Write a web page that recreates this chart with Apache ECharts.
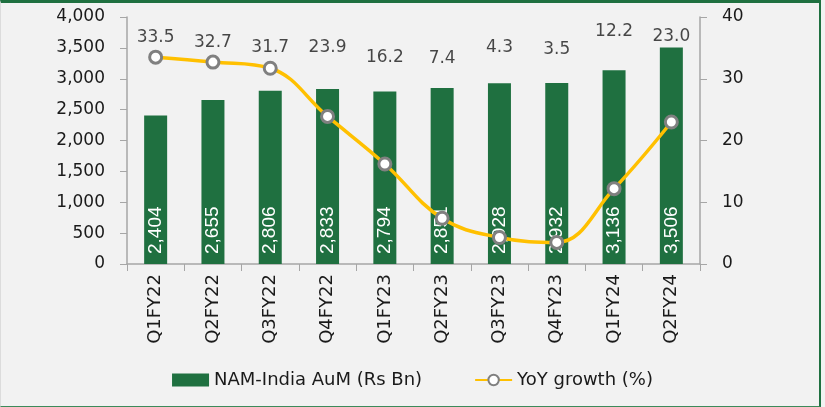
<!DOCTYPE html>
<html><head><meta charset="utf-8">
<script src="https://cdn.jsdelivr.net/npm/echarts@6/dist/echarts.min.js"></script>
<style>
html,body{margin:0;padding:0;background:#ffffff;}
#wrap{position:absolute;left:0;top:0;width:825px;height:407px;}
#chart{position:absolute;left:0;top:0;width:825px;height:407px;}
#frame{position:absolute;left:0;top:0;width:818px;height:403px;border-top:3px solid #1f7040;border-right:2px solid #1f7040;border-bottom:1px solid #3c8a5a;border-left:1px solid #dcdcdc;pointer-events:none;}
</style></head>
<body>
<div id="wrap"><div id="chart"></div><div id="frame"></div></div>
<script>
const categories = ['Q1FY22','Q2FY22','Q3FY22','Q4FY22','Q1FY23','Q2FY23','Q3FY23','Q4FY23','Q1FY24','Q2FY24'];
const aum = [2404,2655,2806,2833,2794,2851,2928,2932,3136,3506];
const yoy = [33.5,32.7,31.7,23.9,16.2,7.4,4.3,3.5,12.2,23.0];
const leftTicks = {min:0,max:4000,interval:500};
const rightTicks = {min:0,max:40,interval:10};

// label anchor heights (right-axis units) for the YoY data labels, placed manually as in the original
const yoyLabelAnchor = [36.6,35.8,35.0,35.1,33.5,33.3,35.0,34.7,37.7,36.9];

const font = '"DejaVu Sans", Inter, sans-serif';
const chart = echarts.init(document.getElementById('chart'));
chart.setOption({
  backgroundColor:'#f2f2f2',
  animation:false,
  grid:{left:127,right:125,top:17,bottom:143},
  legend:{
    top:366,left:'center',itemGap:52,
    textStyle:{fontFamily:font,fontSize:18,color:'#1a1a1a'},
    data:[
      {name:'NAM-India AuM (Rs Bn)',icon:'rect',itemStyle:{color:'#1f7040'}},
      {name:'YoY growth (%)'}
    ],
    itemWidth:37,itemHeight:13
  },
  xAxis:{
    type:'category',data:categories,
    axisLine:{lineStyle:{color:'#a6a6a6',width:1.5}},
    axisTick:{show:true,length:7,lineStyle:{color:'#a6a6a6'}},
    axisLabel:{rotate:90,fontFamily:font,fontSize:18,color:'#1a1a1a',margin:10}
  },
  yAxis:[
    {type:'value',min:leftTicks.min,max:leftTicks.max,interval:leftTicks.interval,
     splitLine:{show:false},
     axisLine:{show:true,lineStyle:{color:'#a6a6a6',width:1.5}},
     axisTick:{show:true,length:7,lineStyle:{color:'#a6a6a6'}},
     axisLabel:{fontFamily:font,fontSize:17,color:'#1a1a1a',margin:22,
       formatter:v=>v.toLocaleString('en-US')}},
    {type:'value',min:rightTicks.min,max:rightTicks.max,interval:rightTicks.interval,
     splitLine:{show:false},
     axisLine:{show:true,lineStyle:{color:'#a6a6a6',width:1.5}},
     axisTick:{show:true,length:7,lineStyle:{color:'#a6a6a6'}},
     axisLabel:{fontFamily:font,fontSize:17,color:'#1a1a1a',margin:22}}
  ],
  series:[
    {name:'NAM-India AuM (Rs Bn)',type:'bar',data:aum,barWidth:23,
     itemStyle:{color:'#1f7040'},
     label:{show:true,position:'insideBottom',rotate:90,align:'left',verticalAlign:'middle',distance:10,
       color:'#ffffff',fontFamily:'"Liberation Sans", Arial, sans-serif',fontSize:19,
       formatter:p=>p.value.toLocaleString('en-US')}},
    {name:'YoY growth (%)',type:'line',yAxisIndex:1,data:yoy,smooth:0.4,
     lineStyle:{color:'#ffc000',width:3.5},
     itemStyle:{color:'#ffffff',borderColor:'#808080',borderWidth:3},
     symbol:'circle',symbolSize:12,
     label:{show:false},
     z:5},
    {name:'yoyLabels',type:'scatter',yAxisIndex:1,silent:true,symbolSize:0,
     data:yoy.map((v,i)=>[i,yoyLabelAnchor[i]]),
     label:{show:true,position:'inside',color:'#1a1a1a',fontFamily:font,fontSize:17,
       formatter:p=>yoy[p.dataIndex].toFixed(1)},
     z:6}
  ]
});
</script>
</body></html>
